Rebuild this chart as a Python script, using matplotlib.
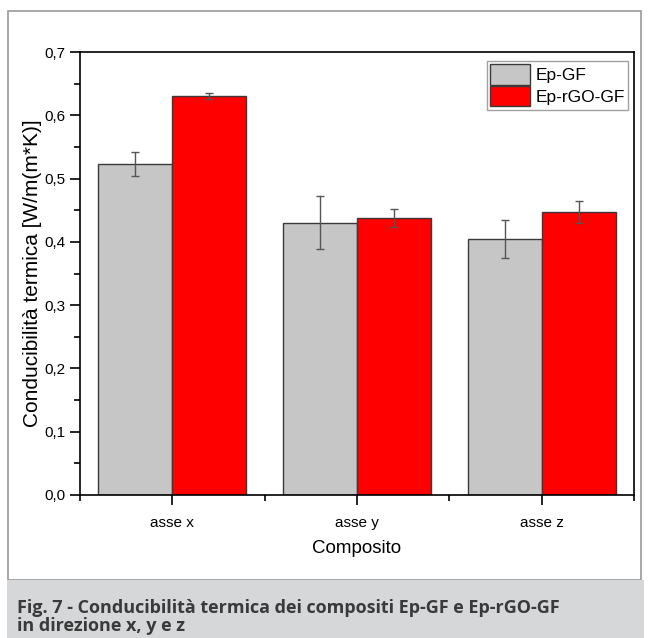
import matplotlib
matplotlib.use("Agg")
import matplotlib.pyplot as plt
from matplotlib.patches import Rectangle
from matplotlib.ticker import MultipleLocator, FuncFormatter
import numpy as np

categories = ["asse x", "asse y", "asse z"]
ep_gf = [0.523, 0.430, 0.404]
ep_gf_err = [0.019, 0.042, 0.030]
ep_rgo_gf = [0.630, 0.438, 0.447]
ep_rgo_gf_err = [0.005, 0.014, 0.017]

W, H = 649, 638
plt.rcParams["font.family"] = ["Liberation Sans", "DejaVu Sans"]
fig = plt.figure(figsize=(W / 100, H / 100), dpi=100)

# outer frame and caption band
fig.patches.append(Rectangle((8 / W, 1 - 580 / H), (641 - 8) / W, (580 - 11) / H,
                             transform=fig.transFigure, fill=False,
                             edgecolor="#9a9a9a", lw=1.2))
fig.patches.append(Rectangle((7 / W, 0), (644 - 7) / W, (638 - 580) / H,
                             transform=fig.transFigure, facecolor="#d6d7d9",
                             edgecolor="none"))

ax = fig.add_axes([80 / W, 1 - 495 / H, (634 - 80) / W, (495 - 52) / H])

x = np.arange(len(categories))
w = 0.4
ekw = dict(ecolor="#555555", elinewidth=1, capsize=3, capthick=1)
ax.bar(x - w / 2, ep_gf, w, yerr=ep_gf_err, color="#c6c6c6",
       edgecolor="#3a3a3a", lw=1, label="Ep-GF", error_kw=ekw)
ax.bar(x + w / 2, ep_rgo_gf, w, yerr=ep_rgo_gf_err, color="#ff0000",
       edgecolor="#3a3a3a", lw=1, label="Ep-rGO-GF", error_kw=ekw)

ax.set_xlim(-0.5, 2.5)
ax.set_ylim(0, 0.7)
ax.set_xticks(x)
ax.set_xticklabels(categories)
ax.xaxis.set_minor_locator(MultipleLocator(0.5))
ax.yaxis.set_major_locator(MultipleLocator(0.1))
ax.yaxis.set_minor_locator(MultipleLocator(0.05))
ax.yaxis.set_major_formatter(FuncFormatter(lambda v, p: f"{v:.1f}".replace(".", ",")))
ax.tick_params(which="major", direction="out", length=7, width=1.2, labelsize=11)
ax.tick_params(which="minor", direction="out", length=4, width=1.2)
ax.tick_params(axis="x", which="major", pad=8)
ax.tick_params(axis="x", which="minor", bottom=True)
ax.xaxis.set_minor_formatter(FuncFormatter(lambda v, p: ""))
for s in ax.spines.values():
    s.set_linewidth(1.2)

ax.set_xlabel("Composito", fontsize=13.5, labelpad=7)
ax.set_ylabel("Conducibilità termica [W/m(m*K)]", fontsize=15, labelpad=2)

leg = ax.legend(loc="upper right", bbox_to_anchor=(1 - 6 / 554, 1 - 9 / 443),
                borderaxespad=0, fontsize=12.5, frameon=True, fancybox=False,
                edgecolor="#8a8a8a", handlelength=2.3, handleheight=1.4,
                handletextpad=0.3, labelspacing=0.1, borderpad=0.2)
leg.get_frame().set_linewidth(1)

cap_kw = dict(fontsize=13, fontweight="bold", color="#3a3a3a", va="baseline",
              family=["Open Sans", "DejaVu Sans"])
fig.text(17 / W, 1 - 613 / H,
         "Fig. 7 - Conducibilità termica dei compositi Ep-GF e Ep-rGO-GF", **cap_kw)
fig.text(17 / W, 1 - 631 / H, "in direzione x, y e z", **cap_kw)

fig.savefig("out.png", dpi=100)
